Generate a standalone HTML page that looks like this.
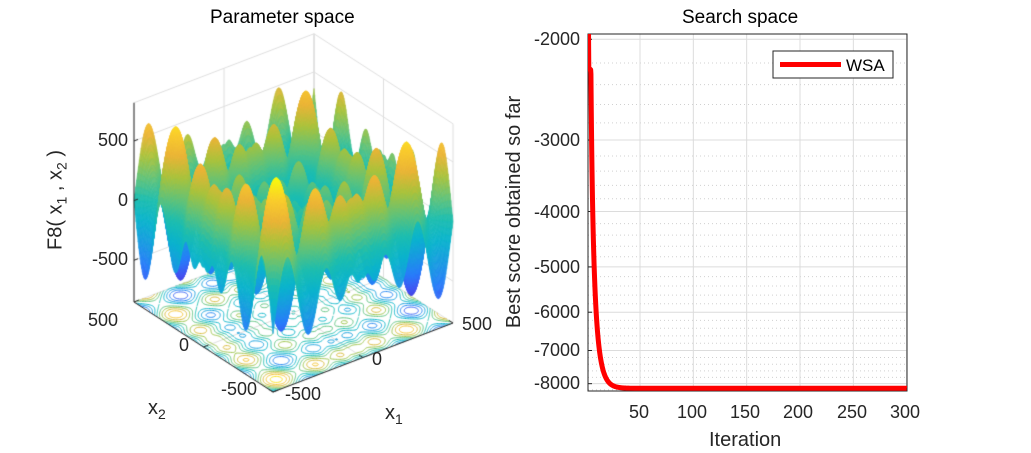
<!DOCTYPE html>
<html><head><meta charset="utf-8">
<style>
html,body{margin:0;padding:0;background:#fff;}
#wrap{position:relative;width:1031px;height:453px;overflow:hidden;font-family:"Liberation Sans",Arial,sans-serif;color:#262626;}
.t{position:absolute;font-size:18px;white-space:nowrap;line-height:1;}
canvas,svg{position:absolute;left:0;top:0;}
</style></head><body>
<div id="wrap">
<canvas id="c" width="1031" height="453"></canvas>
<svg width="1031" height="453" viewBox="0 0 1031 453">
 <defs><clipPath id="cp"><rect x="588" y="34" width="319" height="357"/></clipPath></defs>
 <g id="grid"></g>
 <rect x="588" y="34" width="319" height="357" fill="none" stroke="#262626" stroke-width="1"/>
 <g clip-path="url(#cp)"><polyline id="curve" fill="none" stroke="#f00" stroke-width="5" stroke-linejoin="round"/></g>
 <rect x="773" y="51" width="120" height="27" fill="#fff" stroke="#262626" stroke-width="1"/>
 <line x1="780" y1="64.5" x2="841" y2="64.5" stroke="#f00" stroke-width="5"/>
 <text x="846" y="71" font-family="Liberation Sans, sans-serif" font-size="17" fill="#000">WSA</text>
</svg>
<div class="t" style="left:210px;top:8px;font-size:19px;color:#000">Parameter space</div>
<div class="t" style="left:682px;top:8px;font-size:19px;color:#000">Search space</div>
<div class="t" style="right:451px;top:30px">-2000</div>
<div class="t" style="right:451px;top:131px">-3000</div>
<div class="t" style="right:451px;top:203px">-4000</div>
<div class="t" style="right:451px;top:258px">-5000</div>
<div class="t" style="right:451px;top:303px">-6000</div>
<div class="t" style="right:451px;top:341px">-7000</div>
<div class="t" style="right:451px;top:374px">-8000</div>
<div class="t" style="left:629px;top:403px">50</div>
<div class="t" style="left:677px;top:403px">100</div>
<div class="t" style="left:730px;top:403px">150</div>
<div class="t" style="left:783px;top:403px">200</div>
<div class="t" style="left:837px;top:403px">250</div>
<div class="t" style="left:890px;top:403px">300</div>
<div class="t" style="left:709px;top:430px;font-size:20px">Iteration</div>
<div class="t" style="left:514px;top:212px;font-size:20px;transform:translate(-50%,-50%) rotate(-90deg);transform-origin:center;">Best score obtained so far</div>
<div class="t" style="right:903px;top:131px">500</div>
<div class="t" style="right:903px;top:191px">0</div>
<div class="t" style="right:903px;top:250px">-500</div>
<div class="t" style="left:88px;top:311px">500</div>
<div class="t" style="left:179px;top:336px">0</div>
<div class="t" style="left:221px;top:380px">-500</div>
<div class="t" style="left:285px;top:385px">-500</div>
<div class="t" style="left:372px;top:350px">0</div>
<div class="t" style="left:462px;top:315px">500</div>
<div class="t" style="left:148px;top:398px;font-size:20px">x<sub style="font-size:14px">2</sub></div>
<div class="t" style="left:385px;top:403px;font-size:20px">x<sub style="font-size:14px">1</sub></div>
<div class="t" style="left:57px;top:200px;font-size:20px;transform:translate(-50%,-50%) rotate(-90deg);">F8( x<sub style="font-size:14px">1</sub> , x<sub style="font-size:14px">2</sub> )</div>
</div>
<script>
(function(){
 var ns="http://www.w3.org/2000/svg",g=document.getElementById('grid');
 function Y(v){return 39.3+572*Math.log10(v/2000);}
 function X(i){return 640+(i-50)*1.0667;}
 function ln(x1,y1,x2,y2,st,dash){var l=document.createElementNS(ns,'line');l.setAttribute('x1',x1);l.setAttribute('y1',y1);l.setAttribute('x2',x2);l.setAttribute('y2',y2);l.setAttribute('stroke',st);l.setAttribute('stroke-width',1);if(dash)l.setAttribute('stroke-dasharray',dash);g.appendChild(l);}
 for(var v=2000;v<=8200;v+=200){var y=Y(v);if(v%1000==0)ln(588,y,907,y,'#dcdcdc');else ln(588,y,907,y,'#d0d0d0','1,3');}
 for(var i=50;i<=300;i+=50){ln(X(i),34,X(i),391,'#dcdcdc');}
 for(var v=2000;v<=8000;v+=1000){ln(588,Y(v),592,Y(v),'#262626');}
 var pts=[],vals={1:1960,2:2250,3:2260,4:2300};
 for(var i=1;i<=300;i+=(i<40?0.25:5)){var v;if(i<=4)v=vals[Math.floor(i)];else v=8150-5850*Math.exp(-(i-4)/4.9);pts.push(X(i).toFixed(2)+','+Y(v).toFixed(2));}
 pts.push(X(300)+','+Y(8150));
 document.getElementById('curve').setAttribute('points',pts.join(' '));
})();
(function(){
 var c=document.getElementById('c').getContext('2d');
 function P(x1,x2,z){return [293.5+.18*x1-.139*x2, 312.5-.069*x1-.09*x2-.1193*(z+850)];}
 var ZT=820;
 function L(a,b,col,w){c.beginPath();c.moveTo(a[0],a[1]);c.lineTo(b[0],b[1]);c.strokeStyle=col;c.lineWidth=w||1;c.stroke();}
 var gc='#dedede';
 [-500,0,500].forEach(function(t){
   L(P(t,500,-850),P(t,500,ZT),gc); L(P(500,t,-850),P(500,t,ZT),gc);
   L(P(-500,500,t),P(500,500,t),gc); L(P(500,500,t),P(500,-500,t),gc);
   L(P(-500,t,-850),P(500,t,-850),gc); L(P(t,-500,-850),P(t,500,-850),gc);
 });
 L(P(-500,500,ZT),P(500,500,ZT),gc);L(P(500,500,ZT),P(500,-500,ZT),gc);
 L(P(500,500,-850),P(500,500,ZT),gc);
 function F(a,b){return -a*Math.sin(Math.sqrt(Math.abs(a)))-b*Math.sin(Math.sqrt(Math.abs(b)));}
 var S=[[62,38,168],[70,80,240],[40,125,250],[25,155,225],[10,180,205],[30,190,175],[100,195,120],[170,195,60],[235,180,55],[250,205,45],[249,251,14]];
 function cm(t){t=Math.max(0,Math.min(1,t))*10;var i=Math.min(9,Math.floor(t)),f=t-i,a=S[i],b=S[i+1];return 'rgb('+Math.round(a[0]+(b[0]-a[0])*f)+','+Math.round(a[1]+(b[1]-a[1])*f)+','+Math.round(a[2]+(b[2]-a[2])*f)+')';}
 var zmin=-837.9,zmax=837.9;
 var st=5,N=200;
 var levels=[];for(var l=-750;l<=750;l+=150)levels.push(l);
 c.lineWidth=1;
 for(var i=0;i<N;i++)for(var j=0;j<N;j++){
  var x0=-500+i*st,y0=-500+j*st,x1=x0+st,y1=y0+st;
  var v=[F(x0,y0),F(x1,y0),F(x1,y1),F(x0,y1)],q=[[x0,y0],[x1,y0],[x1,y1],[x0,y1]];
  levels.forEach(function(lv){
   var p=[];
   for(var e=0;e<4;e++){var a=v[e],b=v[(e+1)%4];if((a-lv)*(b-lv)<0){var t=(lv-a)/(b-a),A=q[e],B=q[(e+1)%4];p.push(P(A[0]+(B[0]-A[0])*t,A[1]+(B[1]-A[1])*t,-850));}}
   if(p.length>=2){c.strokeStyle=cm((lv-zmin)/(zmax-zmin));c.beginPath();c.moveTo(p[0][0],p[0][1]);c.lineTo(p[1][0],p[1][1]);if(p.length==4){c.moveTo(p[2][0],p[2][1]);c.lineTo(p[3][0],p[3][1]);}c.stroke();}
  });
 }
 var cells=[];
 for(var i=0;i<N;i++)for(var j=0;j<N;j++){var x0=-500+i*st,y0=-500+j*st;cells.push([x0,y0,.139*(x0+2.5)+.18*(y0+2.5)]);}
 cells.sort(function(a,b){return b[2]-a[2];});
 c.lineWidth=0.6;
 cells.forEach(function(cl){
  var x0=cl[0],y0=cl[1],x1=x0+st,y1=y0+st;
  var z=[F(x0,y0),F(x1,y0),F(x1,y1),F(x0,y1)];
  var pa=[P(x0,y0,z[0]),P(x1,y0,z[1]),P(x1,y1,z[2]),P(x0,y1,z[3])];
  var col=cm(((z[0]+z[1]+z[2]+z[3])/4-zmin)/(zmax-zmin));
  c.fillStyle=col;c.strokeStyle=col;c.beginPath();c.moveTo(pa[0][0],pa[0][1]);for(var k=1;k<4;k++)c.lineTo(pa[k][0],pa[k][1]);c.closePath();c.fill();c.stroke();
 });
 var k='#262626';
 L(P(-500,500,-850),P(-500,500,ZT),k);
 L(P(-500,500,-850),P(-500,-500,-850),k);
 L(P(-500,-500,-850),P(500,-500,-850),k);
 [-500,0,500].forEach(function(t){
  var a=P(-500,500,t);L(a,[a[0]+4,a[1]-1.5],k);
  var b=P(-500,t,-850);L(b,[b[0]+5,b[1]-2],k);
  var d=P(t,-500,-850);L(d,[d[0]-4,d[1]-2.5],k);
 });
})();
</script>
</body></html>
